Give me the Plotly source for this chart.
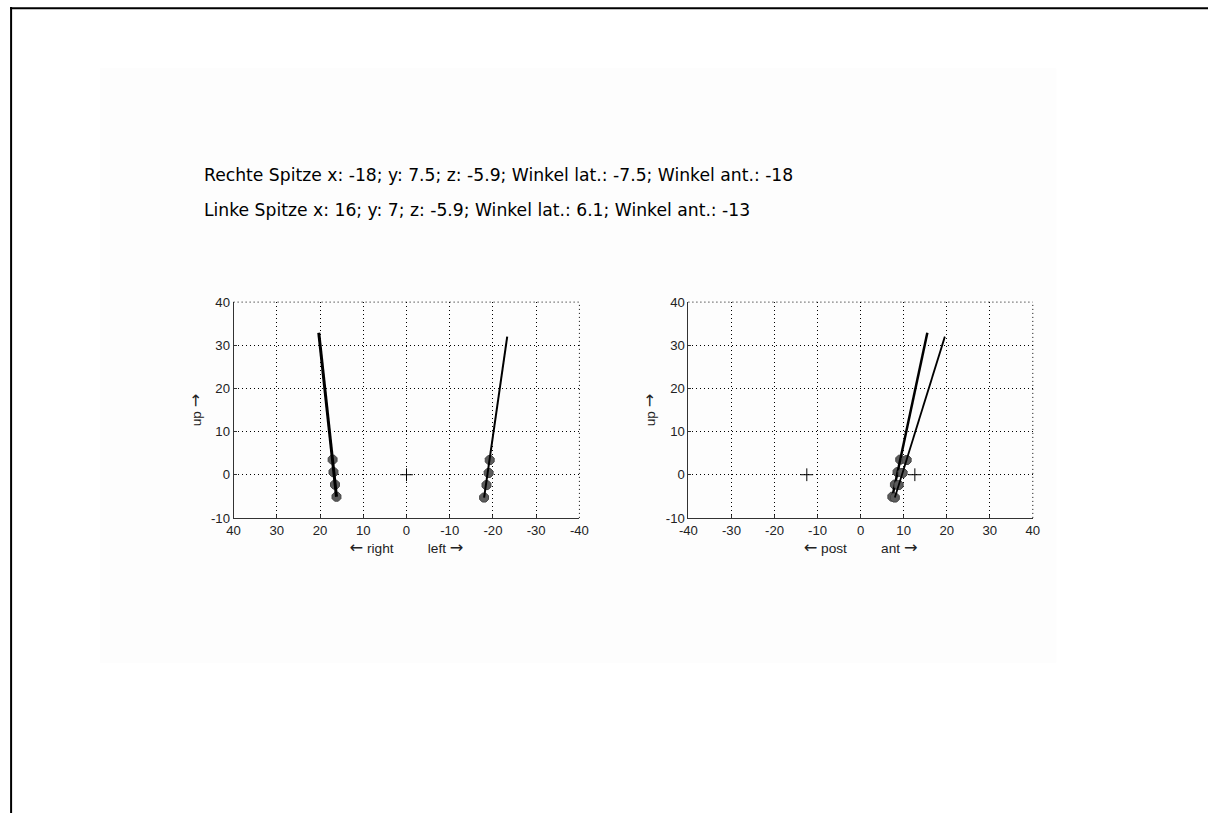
import plotly.graph_objects as go

# the photographed page region includes an 8px body margin and is scaled back to 1218x821;
# layout positions below are given in target-picture pixels and mapped into the figure.
FW, FH = 1218, 821
SX, OX = 1218 / 1234, 7.9
SY, OY = 821 / 837, 7.85
K = 1 / SX  # size compensation

# ---- data ----
# frontal view (x: lateral, reversed axis; y: up)
front_right_line_x = [16.2, 20.3]
front_right_line_y = [-5.1, 32.9]
front_right_mark_x = [17.1, 16.9, 16.55, 16.2]
front_right_mark_y = [3.5, 0.6, -2.3, -5.1]

front_left_line_x = [-17.95, -23.3]
front_left_line_y = [-5.3, 32.0]
front_left_mark_x = [-19.25, -19.0, -18.5, -17.95]
front_left_mark_y = [3.4, 0.4, -2.4, -5.3]

front_cross_x = [0]
front_cross_y = [0]

# sagittal view (x: anterior; y: up)
sag_right_line_x = [7.37, 15.5]
sag_right_line_y = [-5.1, 32.9]
sag_right_mark_x = [9.2, 8.58, 7.96, 7.37]
sag_right_mark_y = [3.5, 0.6, -2.3, -5.1]

sag_left_line_x = [7.96, 19.57]
sag_left_line_y = [-5.3, 32.0]
sag_left_mark_x = [10.7, 9.77, 8.84, 7.96]
sag_left_mark_y = [3.4, 0.4, -2.4, -5.3]

sag_cross_x = [-12.5, 12.6]
sag_cross_y = [0, 0]

x_ticks = [-40, -30, -20, -10, 0, 10, 20, 30, 40]
y_ticks = [-10, 0, 10, 20, 30, 40]

line1 = "Rechte Spitze x: -18; y: 7.5; z: -5.9; Winkel lat.: -7.5; Winkel ant.: -18"
line2 = "Linke Spitze x: 16; y: 7; z: -5.9; Winkel lat.: 6.1; Winkel ant.: -13"


def px(x):
    return (x - OX) / SX / FW


def py(y):
    return 1 - (y - OY) / SY / FH


# ---- figure ----
fig = go.Figure()

MARK = dict(symbol="octagon", size=9.5 * K, color="#5c5c5c", line=dict(color="#454545", width=1))
CROSS = dict(symbol="cross-thin", size=9 * K, line=dict(color="black", width=1))


def add_set(xa, ya, mx, my, lx, ly, lw):
    fig.add_trace(go.Scatter(x=mx, y=my, mode="markers", marker=MARK,
                             xaxis=xa, yaxis=ya, showlegend=False, hoverinfo="skip"))
    fig.add_trace(go.Scatter(x=lx, y=ly, mode="lines", line=dict(color="black", width=lw),
                             xaxis=xa, yaxis=ya, showlegend=False, hoverinfo="skip"))


add_set("x", "y", front_right_mark_x, front_right_mark_y, front_right_line_x, front_right_line_y, 3)
add_set("x", "y", front_left_mark_x, front_left_mark_y, front_left_line_x, front_left_line_y, 2)
fig.add_trace(go.Scatter(x=front_cross_x, y=front_cross_y, mode="markers", marker=CROSS,
                         xaxis="x", yaxis="y", showlegend=False, hoverinfo="skip"))

add_set("x2", "y2", sag_right_mark_x, sag_right_mark_y, sag_right_line_x, sag_right_line_y, 2.5)
add_set("x2", "y2", sag_left_mark_x, sag_left_mark_y, sag_left_line_x, sag_left_line_y, 1.8)
fig.add_trace(go.Scatter(x=sag_cross_x, y=sag_cross_y, mode="markers", marker=CROSS,
                         xaxis="x2", yaxis="y2", showlegend=False, hoverinfo="skip"))

FAM = "Arial, Liberation Sans, sans-serif"
FONT = dict(family=FAM, size=13 * K, color="#222")
TITLEFONT = dict(family=FAM, size=13.5 * K, color="#222")
DOT = "1px,3px"
NB = "\u00a0"
AS = round(16 * K, 1)
LA = f"<span style='font-family:DejaVu Sans;font-size:{AS}px'>\u2190</span>"
RA = f"<span style='font-family:DejaVu Sans;font-size:{AS}px'>\u2192</span>"


def xaxis(domain, rng, title, anchor):
    return dict(domain=domain, range=rng, tickvals=x_ticks, ticktext=[str(v) for v in x_ticks],
                showgrid=True, gridcolor="black", griddash=DOT, gridwidth=1,
                zeroline=False, showline=True, linecolor="#333", linewidth=1, mirror=False,
                ticks="inside", ticklen=3, tickcolor="#333", tickfont=FONT,
                title=dict(text=title, font=TITLEFONT, standoff=4),
                anchor=anchor, fixedrange=True)


def yaxis(domain, title, anchor):
    return dict(domain=domain, range=[-10, 40], tickvals=y_ticks, ticktext=[str(v) for v in y_ticks],
                showgrid=True, gridcolor="black", griddash=DOT, gridwidth=1,
                zeroline=False, showline=True, linecolor="#333", linewidth=1, mirror=False,
                ticks="inside", ticklen=3, tickcolor="#333", tickfont=FONT,
                title=dict(text=title, font=TITLEFONT, standoff=6),
                anchor=anchor, fixedrange=True)


ydom = [py(518.3), py(302.7)]
fig.update_layout(
    width=FW, height=FH, margin=dict(l=0, r=0, t=0, b=0),
    paper_bgcolor="white", plot_bgcolor="rgba(0,0,0,0)",
    xaxis=xaxis([px(232.3), px(579.3)], [40, -40], LA + " right" + NB * 9 + "left " + RA, "y"),
    yaxis=yaxis(ydom, "up " + RA, "x"),
    xaxis2=xaxis([px(688.7), px(1034.3)], [-40, 40], LA + " post" + NB * 9 + "ant " + RA, "y2"),
    yaxis2=yaxis(ydom, "up " + RA, "x2"),
    showlegend=False,
)

# dotted top/right frame lines (grid at range ends)
for xa, ya in (("x", "y"), ("x2", "y2")):
    fig.add_shape(type="line", xref=f"{xa} domain", yref=f"{ya} domain", x0=0, x1=1, y0=1, y1=1,
                  line=dict(color="black", width=1, dash=DOT))
    fig.add_shape(type="line", xref=f"{xa} domain", yref=f"{ya} domain", x0=1, x1=1, y0=0, y1=1,
                  line=dict(color="black", width=1, dash=DOT))

TFONT = dict(family="DejaVu Sans, sans-serif", size=round(17 * K, 1), color="black")
fig.add_annotation(text=line1, xref="paper", yref="paper", x=px(200.5), y=py(176),
                   xanchor="left", yanchor="middle", showarrow=False, font=TFONT)
fig.add_annotation(text=line2, xref="paper", yref="paper", x=px(200.5), y=py(211),
                   xanchor="left", yanchor="middle", showarrow=False, font=TFONT)

# background panel and page border
fig.add_shape(type="rect", xref="paper", yref="paper", x0=px(98), x1=px(1058), y0=py(663), y1=py(69),
              fillcolor="#fdfdfd", line=dict(width=0), layer="below")
fig.add_shape(type="line", xref="paper", yref="paper", x0=0, x1=1, y0=py(9), y1=py(9),
              line=dict(color="black", width=2))
fig.add_shape(type="line", xref="paper", yref="paper", x0=px(9), x1=px(9), y0=0, y1=1,
              line=dict(color="black", width=2))

fig.write_html("out.html")
